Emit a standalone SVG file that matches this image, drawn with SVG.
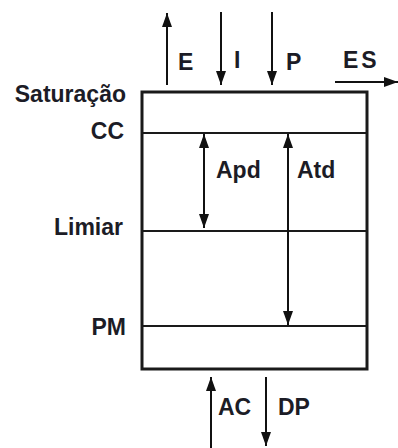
<svg xmlns="http://www.w3.org/2000/svg" width="398" height="448" viewBox="0 0 398 448">
  <defs>
    <marker id="arrow" viewBox="0 0 14 10" refX="14" refY="5" markerWidth="14" markerHeight="10" markerUnits="userSpaceOnUse" orient="auto-start-reverse">
      <path d="M0,0 L14,5 L0,10 z" fill="#111"/>
    </marker>
  </defs>
  <style>
    .lbl { font-family: "Liberation Sans", Arial, sans-serif; font-weight: bold; font-size: 23px; fill: #1c1c26; }
    .end { text-anchor: end; }
    .box { fill: #fff; stroke: #1a1a1a; stroke-width: 3; }
    .div { stroke: #1a1a1a; stroke-width: 2; fill: none; }
    .arr { stroke: #111; stroke-width: 2; fill: none; marker-end: url(#arrow); }
    .darr { stroke: #111; stroke-width: 2; fill: none; marker-start: url(#arrow); marker-end: url(#arrow); }
  </style>
  <rect width="398" height="448" fill="#fff"/>

  <g id="soil-box">
    <rect class="box" x="142" y="92" width="225" height="277"/>
    <line class="div" x1="142" y1="133" x2="367" y2="133"/>
    <line class="div" x1="142" y1="231" x2="367" y2="231"/>
    <line class="div" x1="142" y1="326" x2="367" y2="326"/>
  </g>

  <g id="levels">
    <text class="lbl end" x="126" y="102">Saturação</text>
    <text class="lbl end" x="124" y="139">CC</text>
    <text class="lbl end" x="123" y="235">Limiar</text>
    <text class="lbl end" x="126" y="335">PM</text>
  </g>

  <g id="connectors">
    <line id="E" class="arr" x1="167" y1="85" x2="167" y2="13"/>
    <line id="I" class="arr" x1="221" y1="12" x2="221" y2="85"/>
    <line id="P" class="arr" x1="272" y1="12" x2="272" y2="85"/>
    <line id="ES" class="arr" x1="335" y1="82" x2="398" y2="82"/>
    <line id="Apd" class="darr" x1="204" y1="134" x2="204" y2="228"/>
    <line id="Atd" class="darr" x1="288" y1="134" x2="288" y2="325"/>
    <line id="AC" class="arr" x1="211" y1="448" x2="211" y2="377"/>
    <line id="DP" class="arr" x1="266" y1="377" x2="266" y2="446"/>
  </g>

  <g id="flow-labels">
    <text class="lbl" x="178" y="70">E</text>
    <text class="lbl" x="234" y="68">I</text>
    <text class="lbl" x="286" y="70">P</text>
    <text class="lbl" x="343" y="68" letter-spacing="3">ES</text>
    <text class="lbl" x="216" y="178">Apd</text>
    <text class="lbl" x="297" y="178">Atd</text>
    <text class="lbl" x="218" y="415">AC</text>
    <text class="lbl" x="278" y="415">DP</text>
  </g>
</svg>
